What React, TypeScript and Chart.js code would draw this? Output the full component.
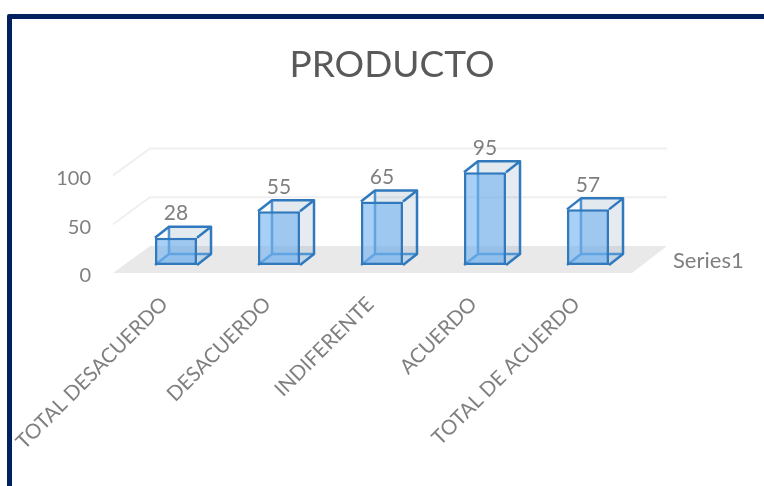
import React, { useEffect, useRef } from "react";
import { Chart, registerables } from "chart.js";

Chart.register(...registerables);

const categories = ["TOTAL DESACUERDO", "DESACUERDO", "INDIFERENTE", "ACUERDO", "TOTAL DE ACUERDO"];
const seriesName = "Series1";
const values = [28, 55, 65, 95, 57];
const titleText = "PRODUCTO";

const FONT = "Lato, 'Open Sans', sans-serif";
const TEXT_GREY = "#7f7f7f";
const EDGE = "#3079bd";

// Oblique projection of the wall and of each box.
const AXIS_DROP = 3;
const WALL_LEFT = 37;
const WALL_RIGHT = 35;
const WALL_UP = 27;
const FLOOR_OVERHANG = 4;
const BOX_SHIFT_X = 11.5;
const BOX_SHIFT_Y = -8 - AXIS_DROP;
const BOX_DX = 14;
const BOX_DY = -11;

function poly(ctx: CanvasRenderingContext2D, pts: number[][], fill?: string) {
  ctx.beginPath();
  pts.forEach(([x, y], i) => (i ? ctx.lineTo(x, y) : ctx.moveTo(x, y)));
  ctx.closePath();
  ctx.fillStyle = fill as string;
  ctx.fill();
}

function boxRect(el: any) {
  const half = el.width / 2;
  return {
    l: el.x - half + BOX_SHIFT_X,
    r: el.x + half + BOX_SHIFT_X,
    t: el.y + BOX_SHIFT_Y,
    b: el.base + BOX_SHIFT_Y,
  };
}

const box3d = {
  id: "box3d",
  beforeDatasetsDraw(chart: any) {
    const { ctx, chartArea, scales } = chart;
    const left = chartArea.left;
    const right = chartArea.right + FLOOR_OVERHANG;
    const y0 = scales.y.getPixelForValue(0) - AXIS_DROP;

    ctx.save();
    // Floor
    poly(ctx, [
      [left, y0],
      [right, y0],
      [right + WALL_RIGHT, y0 - WALL_UP],
      [left + WALL_LEFT, y0 - WALL_UP],
    ], "#e9e9e9");

    // Wall and side gridlines
    ctx.lineWidth = 2;
    ctx.strokeStyle = "#efefef";
    scales.y.ticks.forEach((tick: any) => {
      if (tick.value === 0) return;
      const y = scales.y.getPixelForValue(tick.value) - AXIS_DROP;
      ctx.beginPath();
      ctx.moveTo(left, y);
      ctx.lineTo(left + WALL_LEFT, y - WALL_UP);
      ctx.lineTo(right + WALL_RIGHT, y - WALL_UP);
      ctx.stroke();
    });

    // Rear, top, right and bottom faces of each box
    ctx.lineJoin = "round";
    chart.getDatasetMeta(0).data.forEach((el: any) => {
      const { l, r, t, b } = boxRect(el);
      poly(ctx, [[l + BOX_DX, t + BOX_DY], [r + BOX_DX, t + BOX_DY], [r + BOX_DX, b + BOX_DY], [l + BOX_DX, b + BOX_DY]], "rgba(120,150,180,0.17)");
      poly(ctx, [[l, t], [r, t], [r + BOX_DX, t + BOX_DY], [l + BOX_DX, t + BOX_DY]], "rgba(120,150,180,0.05)");
      poly(ctx, [[r, t], [r + BOX_DX, t + BOX_DY], [r + BOX_DX, b + BOX_DY], [r, b]], "rgba(120,145,170,0.03)");
      poly(ctx, [[l, b], [r, b], [r + BOX_DX, b + BOX_DY], [l + BOX_DX, b + BOX_DY]], "rgba(91,165,235,0.25)");
      ctx.lineWidth = 2.5;
      ctx.strokeStyle = "#4f94d4";
      ctx.beginPath();
      ctx.moveTo(l + BOX_DX, t + BOX_DY);
      ctx.lineTo(l + BOX_DX, b + BOX_DY);
      ctx.lineTo(l, b);
      ctx.moveTo(l + BOX_DX, b + BOX_DY);
      ctx.lineTo(r + BOX_DX, b + BOX_DY);
      ctx.stroke();
    });
    ctx.restore();

    // The front faces come from the bar elements, moved onto the box plane.
    ctx.save();
    ctx.translate(BOX_SHIFT_X, BOX_SHIFT_Y);
  },
  afterDatasetsDraw(chart: any) {
    const { ctx } = chart;
    ctx.restore();

    ctx.save();
    ctx.lineWidth = 2.5;
    ctx.lineJoin = "round";
    ctx.strokeStyle = EDGE;
    const meta = chart.getDatasetMeta(0);
    meta.data.forEach((el: any, i: number) => {
      const { l, r, t, b } = boxRect(el);
      ctx.beginPath();
      ctx.moveTo(l, t);
      ctx.lineTo(l + BOX_DX, t + BOX_DY);
      ctx.lineTo(r + BOX_DX, t + BOX_DY);
      ctx.lineTo(r + BOX_DX, b + BOX_DY);
      ctx.lineTo(r, b);
      ctx.moveTo(r, t);
      ctx.lineTo(r + BOX_DX, t + BOX_DY);
      ctx.stroke();

      // Value above the box
      ctx.fillStyle = TEXT_GREY;
      ctx.font = `21px ${FONT}`;
      ctx.textAlign = "center";
      ctx.textBaseline = "middle";
      ctx.fillText(String(chart.data.datasets[0].data[i]), (l + r) / 2, t - 24);
    });

    // Depth-axis caption
    ctx.fillStyle = TEXT_GREY;
    ctx.font = `22px ${FONT}`;
    ctx.textAlign = "left";
    ctx.textBaseline = "middle";
    ctx.fillText(chart.data.datasets[0].label, 673, 261);
    ctx.restore();
  },
};

export default function App() {
  const ref = useRef<HTMLCanvasElement>(null);

  useEffect(() => {
    const chart = new Chart(ref.current!, {
      type: "bar",
      data: {
        labels: categories,
        datasets: [
          {
            label: seriesName,
            data: values,
            backgroundColor: "rgba(110,175,238,0.6)",
            borderColor: EDGE,
            borderWidth: 2.5,
            borderSkipped: false,
            barPercentage: 0.408,
            categoryPercentage: 1,
            clip: false,
          } as any,
        ],
      },
      options: {
        responsive: false,
        animation: false,
        layout: { padding: { left: 20, right: 0, top: 0, bottom: 0 } },
        plugins: {
          legend: { display: false },
          tooltip: { enabled: false },
          title: {
            display: true,
            text: titleText,
            color: "#595959",
            font: { family: FONT, size: 37, weight: "normal" },
            padding: { top: 43, bottom: 91 },
          },
        },
        scales: {
          x: {
            grid: { display: false },
            border: { display: false },
            ticks: {
              color: TEXT_GREY,
              font: { family: FONT, size: 20.5 },
              minRotation: 45,
              maxRotation: 45,
              padding: 8,
              autoSkip: false,
            },
            afterFit: (s: any) => {
              s.height = 210;
            },
          },
          y: {
            min: 0,
            max: 100,
            grid: { display: false },
            border: { display: false },
            ticks: {
              stepSize: 50,
              color: TEXT_GREY,
              font: { family: FONT, size: 20 },
              padding: 14,
            },
            afterFit: (s: any) => {
              s.width = 93;
            },
          },
          // Reserves the margin that holds the series caption.
          depth: {
            type: "linear",
            position: "right",
            grid: { display: false },
            border: { display: false },
            ticks: { display: false },
            afterFit: (s: any) => {
              s.width = 136;
            },
          },
        },
      },
      plugins: [box3d],
    } as any);
    return () => chart.destroy();
  }, []);

  return (
    <div style={{ position: "fixed", inset: 0, overflow: "hidden", background: "#fff" }}>
      <div
        style={{
          position: "absolute",
          left: 7,
          top: 14,
          width: 820,
          height: 560,
          border: "5.5px solid #002060",
          borderRadius: 2,
        }}
      />
      <canvas ref={ref} width={764} height={486} style={{ position: "absolute", left: 0, top: 0 }} />
    </div>
  );
}
